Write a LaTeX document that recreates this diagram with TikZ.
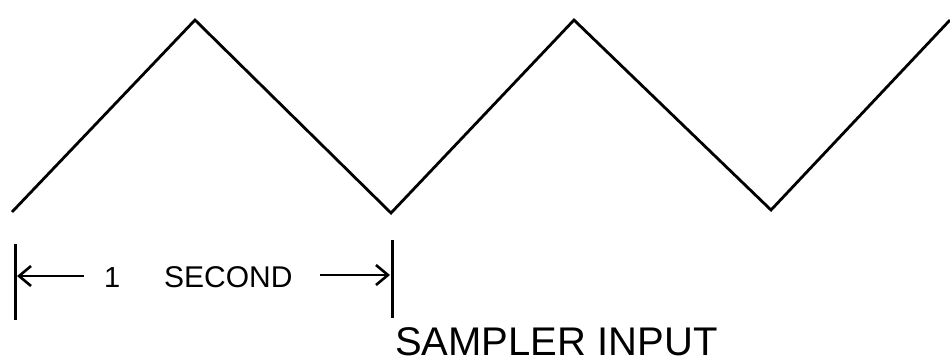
\documentclass[tikz,border=0pt]{standalone}
\usepackage{fontspec}
\setmainfont{Liberation Sans}
\usetikzlibrary{arrows.meta}
\begin{document}
\begin{tikzpicture}[x=1pt,y=-1pt,
  wave/.style={line width=2.8pt,line join=miter},
  tick/.style={line width=3pt},
  dimarrow/.style={line width=2.6pt,-{Straight Barb[length=12pt,width=20pt,line width=2.6pt]}},
  lbl/.style={inner sep=0pt,anchor=base west,text depth=0pt}]
\useasboundingbox (0,0) rectangle (950,362);
% triangle wave
\coordinate (w0) at (12,212);
\coordinate (p1) at (195,20);
\coordinate (v1) at (391,213);
\coordinate (p2) at (574,20);
\coordinate (v2) at (771,210);
\coordinate (w5) at (950,20);
\draw[wave] (w0) -- (p1) -- (v1) -- (p2) -- (v2) -- (w5);
% dimension ticks
\coordinate (lt) at (15,244);
\coordinate (lb) at (15,320);
\coordinate (rt) at (392,240);
\coordinate (rb) at (392,318);
\draw[tick] (lt) -- (lb);
\draw[tick] (rt) -- (rb);
% arrows
\coordinate (la) at (84,276);
\coordinate (lae) at (17,276);
\coordinate (ra) at (320,275);
\coordinate (rae) at (390,275);
\draw[dimarrow] (la) -- (lae);
\draw[dimarrow] (ra) -- (rae);
% labels
\node[lbl,font=\fontsize{29}{29}\selectfont] (one) at (104,287) {1};
\node[lbl,font=\fontsize{30}{30}\selectfont] (sec) at (164,287) {SECOND};
\node[lbl,font=\fontsize{40}{40}\selectfont] (sin) at (395,355) {SAMPLER INPUT};
\end{tikzpicture}
\end{document}
